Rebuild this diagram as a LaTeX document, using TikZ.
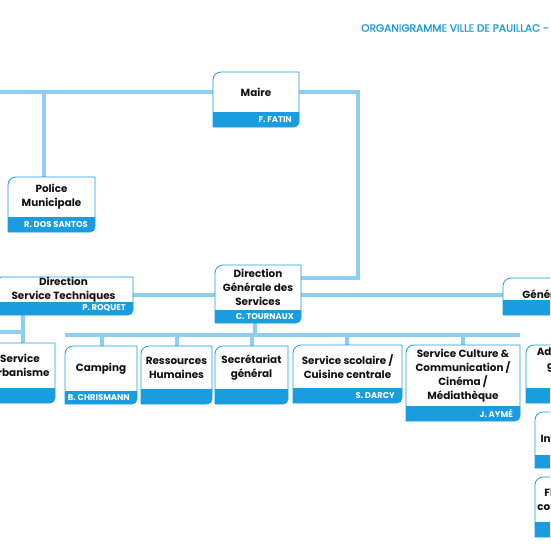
\documentclass[tikz,border=0pt]{standalone}
\usepackage{fontspec}
\setmainfont{Poppins}
\newfontfamily\titlefont{Poppins}[FakeBold=1.2]
\usetikzlibrary{fit,backgrounds}
\definecolor{bandblue}{HTML}{1A9DE0}
\definecolor{connblue}{HTML}{8CCFF3}
\definecolor{titleblue}{HTML}{1D9AD6}
\definecolor{ink}{HTML}{111111}
\tikzset{
  boxfill/.style={fill=white},
  bandfill/.style={fill=bandblue},
  boxline/.style={draw=bandblue, line width=0.8pt},
  boxtext/.style={inner sep=0pt, align=center, text=ink, font=\bfseries\fontsize{10.4}{14}\selectfont},
  persontext/.style={inner sep=0pt, text=white, font=\bfseries\fontsize{8.4}{9}\selectfont},
  conn/.style={draw=connblue, line width=3.5pt},
  titletext/.style={inner sep=0pt, text=titleblue, font=\titlefont\fontsize{10.6}{12}\selectfont}
}
% #1 id, #2 x1, #3 y1, #4 x2, #5 y2, #6 band top, #7 text, #8 person, #9 text y offset
\newcommand\OrgBox[9]{%
  \path[boxfill] (#2,-#5) -- (#2,-#3-8) arc[start angle=180,end angle=90,radius=8pt] -- (#4,-#3) -- (#4,-#5+5) arc[start angle=0,end angle=-90,radius=5pt] -- cycle;
  \path[bandfill] (#2,-#6) -- (#4,-#6) -- (#4,-#5+5) arc[start angle=0,end angle=-90,radius=5pt] -- (#2,-#5) -- cycle;
  \path[boxline] (#2,-#5) -- (#2,-#3-8) arc[start angle=180,end angle=90,radius=8pt] -- (#4,-#3) -- (#4,-#5+5) arc[start angle=0,end angle=-90,radius=5pt] -- cycle;
  \node[inner sep=0pt, outer sep=0pt, fit={(#2,-#3) (#4,-#5)}] (#1) {};
  \node[boxtext] (#1-t) at ({(#2+#4)/2},{-(#3+#6)/2+#9}) {#7};
  \node[persontext, anchor=east] (#1-p) at ({#4-7},{-(#6+#5)/2}) {#8};
}
\begin{document}
\begin{tikzpicture}[x=1pt,y=1pt]
\useasboundingbox (0,0) rectangle (550,-550);
\clip (0,0) rectangle (550,-550);

\node[titletext, anchor=west] (title) at (361,-28) {ORGANIGRAMME VILLE DE PAUILLAC -};

\OrgBox{maire}{213}{72}{299}{127}{112}{Maire}{F. FATIN}{0}
\OrgBox{police}{8}{177}{95}{232}{217}{Police\\Municipale}{R. DOS SANTOS}{0}
\OrgBox{dst}{-6}{277}{133}{315}{302}{Direction\\Service Techniques}{P. ROQUET}{0}
\OrgBox{dgs}{215}{265}{301}{323}{310}{Direction\\Générale des\\Services}{C. TOURNAUX}{0}
\OrgBox{gen}{503}{278}{638}{315}{300}{Générale Adjointe}{}{(-7)}
\OrgBox{urb}{-15}{343}{55}{403}{388}{Service\\Urbanisme}{}{0}
\OrgBox{camp}{65}{346}{137}{404}{391}{Camping}{B. CHRISMANN}{0}
\OrgBox{rh}{141}{346}{212}{404}{389}{Ressources\\Humaines}{}{0}
\OrgBox{sec}{215}{346}{288}{404}{389}{Secrétariat\\général}{}{0}
\OrgBox{scol}{293}{345}{402}{403}{388}{Service scolaire /\\Cuisine centrale}{S. DARCY}{0}
\OrgBox{cult}{406}{345}{520}{421}{406}{Service Culture \&\\Communication /\\Cinéma /\\Médiathèque}{J. AYMÉ}{0}
\OrgBox{adm}{526}{345}{629}{403}{388}{Administration\\générale et\\juridique}{}{0}
\OrgBox{info}{535}{412}{617}{468}{455}{Informatique}{}{(-6)}
\OrgBox{fin}{535}{477}{609}{537}{522}{Finances /\\comptabilité}{}{0}

\begin{scope}[on background layer]
  \coordinate (Ltop) at (0,-92);
  \coordinate (Rtop) at (358,-92);
  \coordinate (jm) at (358,-278);
  \coordinate (jp) at (44,-92);
  \coordinate (h1) at (0,-295);
  \coordinate (rowL) at (65,-335);
  \coordinate (rowR) at (520,-335);
  \coordinate (d1) at (255,-335);
  \coordinate (t1) at (102,-335);
  \coordinate (t2) at (177,-335);
  \coordinate (t3) at (252,-335);
  \coordinate (t4) at (347,-335);
  \coordinate (t5) at (463,-335);
  \coordinate (u0) at (0,-332);
  \coordinate (u1) at (23,-332);
  \draw[conn] (Ltop) -- (maire.west |- Ltop);
  \draw[conn] (maire.east |- Rtop) -- (Rtop) -- (jm) -- (dgs.east |- jm);
  \draw[conn] (jp) -- (jp |- police.north);
  \draw[conn] (dst.east |- h1) -- (gen.west |- h1);
  \draw[conn] (d1 |- dgs.south) -- (d1);
  \draw[conn] (rowL) -- (rowR);
  \draw[conn] (t1) -- (t1 |- camp.north);
  \draw[conn] (t2) -- (t2 |- rh.north);
  \draw[conn] (t3) -- (t3 |- sec.north);
  \draw[conn] (t4) -- (t4 |- scol.north);
  \draw[conn] (t5) -- (t5 |- cult.north);
  \draw[conn] (u1 |- dst.south) -- (u1 |- urb.north);
  \draw[conn] (u0) -- (u1);
\end{scope}
\end{tikzpicture}
\end{document}
